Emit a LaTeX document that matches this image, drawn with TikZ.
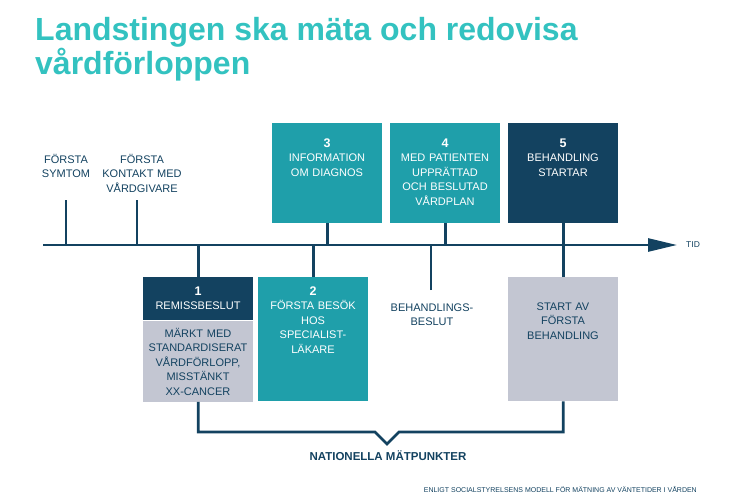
\documentclass[tikz,border=0pt]{standalone}
\usepackage{fontspec}
\setmainfont{Liberation Sans}
\usetikzlibrary{arrows.meta,positioning}
\definecolor{titlecol}{RGB}{51,194,192}
\definecolor{tealcol}{RGB}{31,159,170}
\definecolor{navycol}{RGB}{19,66,96}
\definecolor{greycol}{RGB}{195,198,210}
\newcommand{\boxnum}[1]{{\fontsize{12.5}{14.5}\selectfont\bfseries #1}}
\begin{document}
\begin{tikzpicture}[x=1pt,y=-1pt,
  tline/.style={navycol,line width=2.6pt},
  mbox/.style={minimum width=110pt,anchor=north west},
  btxt/.style={text width=108pt,align=center,anchor=base,
    font=\fontsize{11}{14.5}\selectfont},
  lbl/.style={btxt,text=navycol}]
\tikzstyle{every node}+=[inner sep=0pt]
\useasboundingbox (0,0) rectangle (733,500);
% title
\node [anchor=base west,align=left,text=titlecol,
  font=\fontsize{32}{33}\selectfont\bfseries] (title) at (35,75)
  {Landstingen ska mäta och redovisa\\vårdförloppen};
% time line
\coordinate (tl0) at (43,245);
\coordinate (tl1) at (677,245);
\draw [tline,-{Triangle[length=29pt,width=13pt]}] (tl0) -- (tl1);
\node [anchor=west,text=navycol,font=\fontsize{8.5}{9}\selectfont] (tid) at (686,245) {TID};
% points above the line
\coordinate (p1) at (66,200);
\coordinate (p2) at (137,200);
\node [lbl] (p1lbl) at (66,163) {FÖRSTA\\SYMTOM};
\node [lbl] (p2lbl) at (142,163) {FÖRSTA\\KONTAKT MED\\VÅRDGIVARE};
\draw [tline] (p1) -- (p1 |- tl0);
\draw [tline] (p2) -- (p2 |- tl0);
\node [mbox,fill=tealcol,minimum height=100pt] (b3) at (272,123) {};
\node [mbox,fill=tealcol,minimum height=100pt] (b4) at (390,123) {};
\node [mbox,fill=navycol,minimum height=100pt] (b5) at (508,123) {};
\node [btxt,text=white] (b3txt) at (327,147) {\boxnum{3}\\INFORMATION\\OM DIAGNOS};
\node [btxt,text=white] (b4txt) at (445,147) {\boxnum{4}\\MED PATIENTEN\\UPPRÄTTAD\\OCH BESLUTAD\\VÅRDPLAN};
\node [btxt,text=white] (b5txt) at (563,147) {\boxnum{5}\\BEHANDLING\\STARTAR};
\draw [tline] (b3.south) -- (b3.south |- tl0);
\draw [tline] (b4.south) -- (b4.south |- tl0);
\draw [tline] (b5.south) -- (b5.south |- tl0);
% points below the line
\node [mbox,fill=navycol,minimum height=43pt] (b1) at (143,277) {};
\node [mbox,fill=greycol,minimum height=81pt,below=0pt of b1] (b1g) {};
\node [mbox,fill=tealcol,minimum height=124pt] (b2) at (258,277) {};
\node [mbox,fill=greycol,minimum height=124pt] (b6) at (508,277) {};
\node [btxt,text=white] (b1txt) at (198,295) {\boxnum{1}\\REMISSBESLUT};
\node [lbl] (b1gtxt) at (198,337) {MÄRKT MED\\STANDARDISERAT\\VÅRDFÖRLOPP,\\MISSTÄNKT\\XX-CANCER};
\node [btxt,text=white] (b2txt) at (313,295) {\boxnum{2}\\FÖRSTA BESÖK\\HOS\\SPECIALIST-\\LÄKARE};
\node [lbl] (b6txt) at (563,310) {START AV\\FÖRSTA\\BEHANDLING};
\coordinate (p4) at (431,290);
\node [lbl] (p4lbl) at (432,311) {BEHANDLINGS-\\BESLUT};
\draw [tline] (b1.north) -- (b1.north |- tl0);
\draw [tline] (b2.north) -- (b2.north |- tl0);
\draw [tline] (b6.north) -- (b6.north |- tl0);
\draw [tline] (p4) -- (p4 |- tl0);
% measuring points
\coordinate (nl) at (375,432);
\coordinate (nt) at (387,444);
\coordinate (nr) at (399,432);
\draw [tline,line join=miter] (b1g.south) |- (nl) -- (nt) -- (nr) -| (b6.south);
\node [text=navycol,font=\fontsize{11.5}{12}\selectfont\bfseries] (npt) at (388,456) {NATIONELLA MÄTPUNKTER};
\node [anchor=base east,text=navycol,font=\fontsize{7}{8}\selectfont] (src) at (697,492)
  {ENLIGT SOCIALSTYRELSENS MODELL FÖR MÄTNING AV VÄNTETIDER I VÅRDEN};
\end{tikzpicture}
\end{document}
